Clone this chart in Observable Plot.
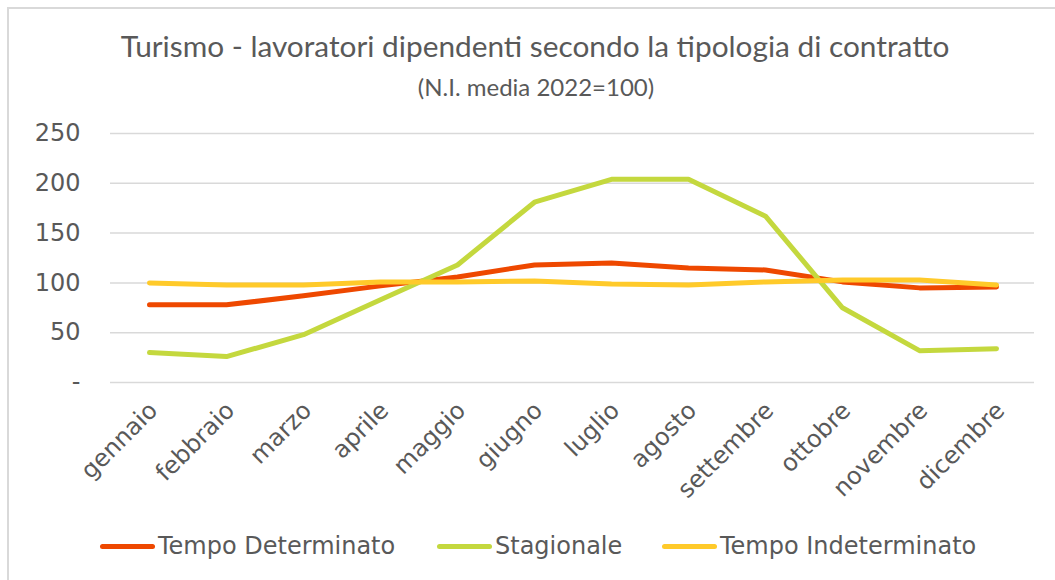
<!DOCTYPE html>
<html>
<head>
<meta charset="utf-8">
<script src="https://cdn.jsdelivr.net/npm/d3@7"></script>
<script src="https://cdn.jsdelivr.net/npm/@observablehq/plot@0.6"></script>
<style>
  html, body { margin: 0; padding: 0; background: #fff; }
  #wrap { position: relative; width: 1055px; height: 580px; overflow: hidden; background: #fff; }
  #frame { position: absolute; left: 7px; top: 7px; width: 1100px; height: 620px; border: 2px solid #d9d9d9; box-sizing: border-box; }
  #title { position: absolute; left: 0; width: 1070px; top: 28px; line-height: 36px; text-align: center; font-family: Lato, "Open Sans", sans-serif; font-size: 29.8px; color: #595959; white-space: nowrap; }
  #subtitle { position: absolute; left: 0; width: 1072px; top: 72px; line-height: 29px; text-align: center; font-family: Lato, "Open Sans", sans-serif; font-size: 24px; color: #595959; white-space: nowrap; }
  #chart { position: absolute; left: 0; top: 100px; }
  #legend { position: absolute; left: 0; top: 530px; width: 1055px; height: 32px; font-family: "DejaVu Sans", Verdana, sans-serif; font-size: 24px; color: #595959; }
  .item { position: absolute; top: 0; height: 32px; display: flex; align-items: center; white-space: nowrap; }
  .sw { width: 55px; height: 5px; border-radius: 3px; margin-right: 3px; }
</style>
</head>
<body>
<div id="wrap">
  <div id="frame"></div>
  <div id="title">Turismo - lavoratori dipendenti secondo la tipologia di contratto</div>
  <div id="subtitle">(N.I. media 2022=100)</div>
  <div id="chart"></div>
  <div id="legend"></div>
</div>
<script>
const months = ["gennaio","febbraio","marzo","aprile","maggio","giugno","luglio","agosto","settembre","ottobre","novembre","dicembre"];
const seriesNames = ["Tempo Determinato","Stagionale","Tempo Indeterminato"];
const seriesColors = ["#ee4800","#c4d83e","#ffca2a"];
const tempoDeterminato = [78, 78, 87, 97, 106, 118, 120, 115, 113, 101, 95, 96];
const stagionale = [30, 26, 48, 83, 118, 181, 204, 204, 167, 75, 32, 34];
const tempoIndeterminato = [100, 98, 98, 101, 101, 102, 99, 98, 101, 103, 103, 98];
const yTicks = [0, 50, 100, 150, 200, 250];

const seriesValues = [tempoDeterminato, stagionale, tempoIndeterminato];
const data = [];
seriesNames.forEach((s, i) => months.forEach((m, j) => data.push({series: s, month: m, value: seriesValues[i][j]})));

const chart = Plot.plot({
  width: 1055,
  height: 420,
  marginLeft: 110,
  marginRight: 21,
  marginTop: 33,
  marginBottom: 138,
  style: {fontFamily: "'DejaVu Sans', Verdana, sans-serif", fontSize: "24px", color: "#595959", background: "transparent"},
  x: {type: "point", domain: months, padding: 0.5, label: null},
  y: {domain: [0, 250], label: null},
  color: {domain: seriesNames, range: seriesColors},
  marks: [
    Plot.ruleY(yTicks, {stroke: "#d9d9d9", strokeWidth: 1.5}),
    Plot.axisY({ticks: yTicks, tickSize: 0, tickPadding: 30, tickFormat: d => d === 0 ? "-" : String(d), label: null}),
    Plot.axisX({tickSize: 0, tickRotate: -45, tickPadding: 24, dx: 4, label: null}),
    Plot.lineY(data, {x: "month", y: "value", z: "series", stroke: "series", strokeWidth: 5, strokeLinecap: "round", strokeLinejoin: "round"})
  ]
});
document.getElementById("chart").appendChild(chart);

const legend = document.getElementById("legend");
const lefts = [100, 437, 662];
seriesNames.forEach((s, i) => {
  const it = document.createElement("div");
  it.className = "item";
  it.style.left = lefts[i] + "px";
  const sw = document.createElement("div");
  sw.className = "sw";
  sw.style.background = seriesColors[i];
  const t = document.createElement("span");
  t.textContent = s;
  it.appendChild(sw); it.appendChild(t);
  legend.appendChild(it);
});
</script>
</body>
</html>
